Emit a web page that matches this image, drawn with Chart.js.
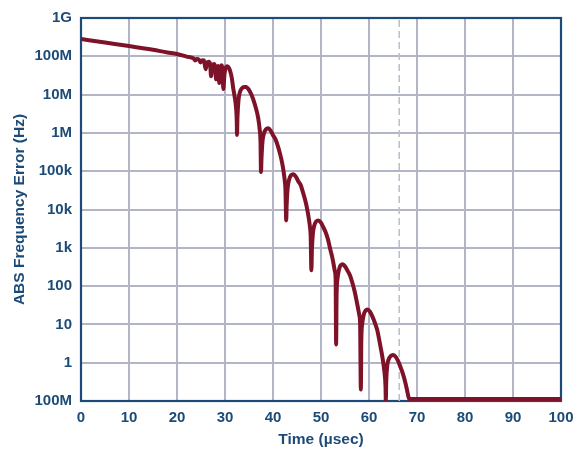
<!DOCTYPE html>
<html><head><meta charset="utf-8">
<script src="https://cdn.jsdelivr.net/npm/chart.js@4"></script>
<style>html,body{margin:0;padding:0;background:#fff}#wrap{width:586px;height:449px}</style>
</head><body><div id="wrap"><canvas id="c" width="586" height="449"></canvas></div>
<script>
// ---- data ----
const timeUs = [
  0, 5, 10, 15, 18, 20, 22, 23.5, 23.8, 24.1, 24.6, 24.9, 25.3, 25.6, 25.97, 26.3, 26.6, 26.9, 27.1, 27.4,
  27.7, 28.0, 28.15, 28.4, 28.55, 28.8, 29.1, 29.3, 29.5, 29.65, 29.9, 30.2, 30.5, 30.8, 31.1, 31.4, 31.7,
  32.0, 32.3, 32.45, 32.5,
  32.6, 32.8, 33.1, 33.5, 34.0, 34.4, 34.9, 35.4, 35.9, 36.4, 36.9, 37.2, 37.4, 37.5,
  37.6, 37.8, 38.1, 38.5, 39.0, 39.5, 40.0, 40.5, 41.0, 41.5, 41.9, 42.2, 42.45, 42.6, 42.75,
  42.85, 43.05, 43.35, 43.75, 44.25, 44.75, 45.25, 45.75, 46.25, 46.75, 47.15, 47.45, 47.7, 47.85, 48.0,
  48.1, 48.3, 48.6, 49.0, 49.45, 49.95, 50.45, 50.95, 51.45, 51.95, 52.35, 52.65, 52.9, 53.05, 53.15,
  53.25, 53.45, 53.75, 54.1, 54.55, 55.05, 55.55, 56.05, 56.55, 57.05, 57.45, 57.75, 58.0, 58.15, 58.3,
  58.4, 58.6, 58.9, 59.3, 59.7, 60.2, 60.7, 61.2, 61.7, 62.0, 62.4, 62.8, 63.1, 63.3, 63.45, 63.5,
  63.6, 63.8, 64.1, 64.5, 65.0, 65.5, 66.0, 66.5, 67.0, 67.5, 67.9, 68.2, 68.4, 100
];
const errorHz = [
  2.82e8, 2.29e8, 1.86e8, 1.48e8, 1.26e8, 1.15e8, 9.8e7, 8.7e7, 7.8e7, 8.5e7, 8.1e7, 6.9e7, 7.9e7, 7.8e7, 4.6e7, 6.9e7, 7.2e7, 6.3e7, 3.0e7, 5.8e7,
  6.3e7, 5.0e7, 2.5e7, 5.2e7, 5.6e7, 2.0e7, 5.0e7, 5.8e7, 4.0e7, 1.4e7, 3.5e7, 5.2e7, 5.5e7, 5.0e7, 4.0e7, 2.8e7, 1.5e7,
  8.9e6, 4.6e6, 2.0e6, 8.9e5,
  2.6e6, 6.9e6, 1.15e7, 1.45e7, 1.58e7, 1.58e7, 1.38e7, 1.07e7, 7.4e6, 4.6e6, 2.5e6, 1.3e6, 5.6e5, 9.5e4,
  2.1e5, 5.8e5, 9.5e5, 1.23e6, 1.32e6, 1.15e6, 8.7e5, 6.9e5, 4.6e5, 2.75e5, 1.66e5, 1.0e5, 5.6e4, 3.2e4, 5.2e3,
  1.35e4, 3.6e4, 6.0e4, 7.8e4, 8.3e4, 7.2e4, 5.5e4, 4.4e4, 2.8e4, 1.66e4, 9.8e3, 5.9e3, 3.5e3, 2.0e3, 260,
  850, 2300, 3800, 4900, 5200, 4600, 3500, 2600, 1660, 890, 560, 360, 240, 150, 3.0,
  60, 160, 270, 350, 370, 320, 250, 190, 120, 69, 39, 25, 17, 10.5, 0.2,
  4.0, 10.7, 17.8, 23, 24.5, 21.4, 16.2, 11.2, 7.2, 4.8, 2.6, 1.38, 0.76, 0.45, 0.22, 0.1,
  0.35, 0.83, 1.23, 1.48, 1.58, 1.45, 1.15, 0.81, 0.54, 0.33, 0.2, 0.13, 0.112, 0.112
];
const xTicks = [0, 10, 20, 30, 40, 50, 60, 70, 80, 90, 100];
const yTickValues = [0.1, 1, 10, 100, 1e3, 1e4, 1e5, 1e6, 1e7, 1e8, 1e9];
const yTickLabels = ['100M', '1', '10', '100', '1k', '10k', '100k', '1M', '10M', '100M', '1G'];
const markerTime = 66.3;
const xTitle = 'Time (µsec)';
const yTitle = 'ABS Frequency Error (Hz)';

// ---- styling ----
const NAVY = '#1d4b78';
const GRID = '#b1b5c6';
const LINE = '#7e1229';
const FONT = 'Liberation Sans, Arial, sans-serif';

const curve = timeUs.map((t, i) => ({ x: t, y: errorHz[i] }));
const marker = [{ x: markerTime, y: yTickValues[0] }, { x: markerTime, y: yTickValues[yTickValues.length - 1] }];

const framePlugin = {
  id: 'frame',
  beforeDatasetsDraw(chart) {
    const { ctx, chartArea: a } = chart;
    ctx.save();
    ctx.strokeStyle = NAVY;
    ctx.lineWidth = 2.2;
    ctx.strokeRect(a.left, a.top, a.right - a.left, a.bottom - a.top);
    ctx.restore();
  }
};

new Chart(document.getElementById('c'), {
  type: 'line',
  data: {
    datasets: [
      { data: curve, borderColor: LINE, borderWidth: 4, pointRadius: 0, fill: false,
        cubicInterpolationMode: 'monotone', borderCapStyle: 'round', borderJoinStyle: 'round', order: 1 },
      { data: marker, borderColor: '#bcc0ce', borderWidth: 1.6, borderDash: [7, 4], pointRadius: 0, fill: false, order: 2 }
    ]
  },
  options: {
    responsive: false,
    devicePixelRatio: 1,
    animation: false,
    layout: { padding: { top: 17, right: 25, left: 0, bottom: 0 } },
    plugins: { legend: { display: false }, tooltip: { enabled: false } },
    scales: {
      x: {
        type: 'linear', min: 0, max: 100,
        afterBuildTicks: s => { s.ticks = xTicks.map(v => ({ value: v })); },
        afterFit: s => { s.height = 48; },
        grid: { color: GRID, lineWidth: 2, drawTicks: false },
        border: { display: false },
        ticks: { color: NAVY, font: { family: FONT, size: 15, weight: 'bold' }, padding: 8, maxRotation: 0 },
        title: { display: true, text: xTitle, color: NAVY, font: { family: FONT, size: 15.5, weight: 'bold' }, padding: { top: 0, bottom: 0 } }
      },
      y: {
        type: 'logarithmic', min: 0.1, max: 1e9,
        afterBuildTicks: s => { s.ticks = yTickValues.map(v => ({ value: v })); },
        afterFit: s => { s.width = 81; },
        grid: { color: GRID, lineWidth: 2, drawTicks: false },
        border: { display: false },
        ticks: { color: NAVY, font: { family: FONT, size: 15, weight: 'bold' }, padding: 9,
          callback: (v, i) => yTickLabels[i] },
        title: { display: true, text: yTitle, color: NAVY, font: { family: FONT, size: 15.5, weight: 'bold' }, padding: { top: 10, bottom: 0 } }
      }
    }
  },
  plugins: [framePlugin]
});
</script>
</body></html>
